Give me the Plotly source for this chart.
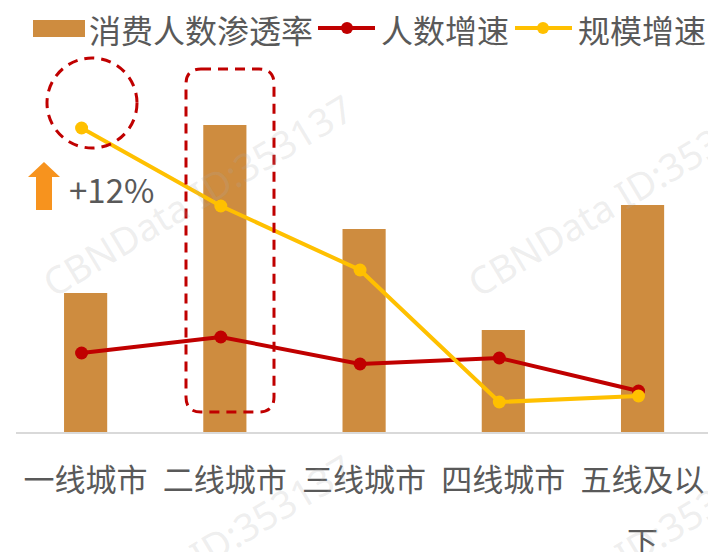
import plotly.graph_objects as go

categories = ["一线城市", "二线城市", "三线城市", "四线城市", "五线及以下"]
penetration = [13.9, 30.7, 20.3, 10.2, 22.7]
people_growth = [7.9, 9.5, 6.8, 7.4, 4.1]
scale_growth = [30.4, 22.6, 16.2, 3.0, 3.6]
series_names = ["消费人数渗透率", "人数增速", "规模增速"]
highlight_text = "+12%"
watermark = "CBNData ID:353137"

BAR = "#CE8C3F"
RED = "#C00000"
YEL = "#FFC000"
GRAY = "#595959"
CJK = "Noto Sans CJK SC"

W, H = 708, 552
L, R, T, B = 16, 0, 60, 120
PW, PH = W - L - R, H - T - B


def X(px):
    return (px - L) / PW


def Y(py):
    return (H - B - py) / PH


fig = go.Figure()
fig.add_trace(go.Bar(x=categories, y=penetration, name=series_names[0],
                     marker=dict(color=BAR, line=dict(width=0)), width=0.31,
                     showlegend=False))
fig.add_trace(go.Scatter(x=categories, y=people_growth, name=series_names[1],
                         mode="lines+markers", xaxis="x2",
                         line=dict(color=RED, width=4),
                         marker=dict(color=RED, size=13), showlegend=False))
fig.add_trace(go.Scatter(x=categories, y=scale_growth, name=series_names[2],
                         mode="lines+markers", xaxis="x2",
                         line=dict(color=YEL, width=4),
                         marker=dict(color=YEL, size=13), showlegend=False))

shift = 0.029
xr = [-0.5, 4.47]
ticktext = categories[:4] + [categories[4][:4]]

DASH = dict(color=RED, width=3, dash="10px,7px")

shapes = []
# dashed circle
shapes.append(dict(type="circle", xref="paper", yref="paper",
                   x0=X(47), x1=X(137), y0=Y(148), y1=Y(58), line=DASH))
# rounded dashed rectangle
x0, x1, y0, y1, r = 186, 274, 69, 412, 15
pts = [
    ("M", X(x0 + r), Y(y0)), ("L", X(x1 - r), Y(y0)),
    ("Q", X(x1), Y(y0), X(x1), Y(y0 + r)), ("L", X(x1), Y(y1 - r)),
    ("Q", X(x1), Y(y1), X(x1 - r), Y(y1)), ("L", X(x0 + r), Y(y1)),
    ("Q", X(x0), Y(y1), X(x0), Y(y1 - r)), ("L", X(x0), Y(y0 + r)),
    ("Q", X(x0), Y(y0), X(x0 + r), Y(y0)),
]
path = ""
for p in pts:
    cmd = p[0]
    coords = p[1:]
    path += cmd + " " + " ".join(
        f"{coords[i]:.5f},{coords[i+1]:.5f}" for i in range(0, len(coords), 2)) + " "
path += "Z"
shapes.append(dict(type="path", xref="paper", yref="paper", path=path, line=DASH))
# arrow
arrow = [(28, 177), (44, 162), (60, 177), (52, 177), (52, 210), (36, 210), (36, 177)]
apath = "M " + " L ".join(f"{X(a):.5f},{Y(b):.5f}" for a, b in arrow) + " Z"
shapes.append(dict(type="path", xref="paper", yref="paper", path=apath,
                   fillcolor="#F7931E", line=dict(width=0)))
# legend symbols
shapes.append(dict(type="rect", xref="paper", yref="paper",
                   x0=X(33), x1=X(85), y0=Y(37), y1=Y(20),
                   fillcolor=BAR, line=dict(width=0)))
for (a, b, c, col) in [(318, 375, 347, RED), (515, 572, 543, YEL)]:
    shapes.append(dict(type="line", xref="paper", yref="paper",
                       x0=X(a), x1=X(b), y0=Y(28), y1=Y(28),
                       line=dict(color=col, width=4)))
    shapes.append(dict(type="circle", xref="paper", yref="paper",
                       x0=X(c - 6), x1=X(c + 6), y0=Y(34), y1=Y(22),
                       fillcolor=col, line=dict(width=0)))

ann = []
for (tx, px) in [(series_names[0], 87), (series_names[1], 379), (series_names[2], 576)]:
    ann.append(dict(text=tx, xref="paper", yref="paper", x=X(px), y=Y(29),
                    xanchor="left", yanchor="middle", showarrow=False,
                    font=dict(family=CJK, size=32, color=GRAY)))
ann.append(dict(text=highlight_text, xref="paper", yref="paper", x=X(112), y=Y(189),
                xanchor="center", yanchor="middle", showarrow=False,
                font=dict(family=CJK, size=33, color=GRAY)))
ann.append(dict(text=categories[4][4:], xref="x", yref="paper", x=categories[4], y=Y(540),
                xanchor="center", yanchor="middle", showarrow=False,
                font=dict(family=CJK, size=31, color=GRAY)))
for (cx, cy) in [(197, 195), (622, 195), (197, 555), (622, 555)]:
    ann.append(dict(text=watermark, xref="paper", yref="paper", x=X(cx), y=Y(cy),
                    xanchor="center", yanchor="middle", showarrow=False, textangle=-31,
                    font=dict(family="Noto Sans", size=38, color="rgba(170,170,170,0.2)")))

fig.update_layout(
    width=W, height=H, margin=dict(l=L, r=R, t=T, b=B),
    paper_bgcolor="white", plot_bgcolor="white",
    xaxis=dict(type="category", range=xr, showline=True, linecolor="#D9D9D9", linewidth=2,
               showgrid=False, zeroline=False, ticks="",
               tickvals=categories, ticktext=ticktext, ticklabelstandoff=20,
               tickfont=dict(family=CJK, size=31, color=GRAY)),
    xaxis2=dict(type="category", overlaying="x", range=[xr[0] + shift, xr[1] + shift],
                visible=False, showgrid=False),
    yaxis=dict(range=[0, PH / 10], visible=False, showgrid=False, zeroline=False),
    shapes=shapes, annotations=ann, showlegend=False,
)
fig.write_html("out.html", config={"displayModeBar": False},
               post_script="document.body.style.margin='0px';document.body.style.overflow='hidden';")
